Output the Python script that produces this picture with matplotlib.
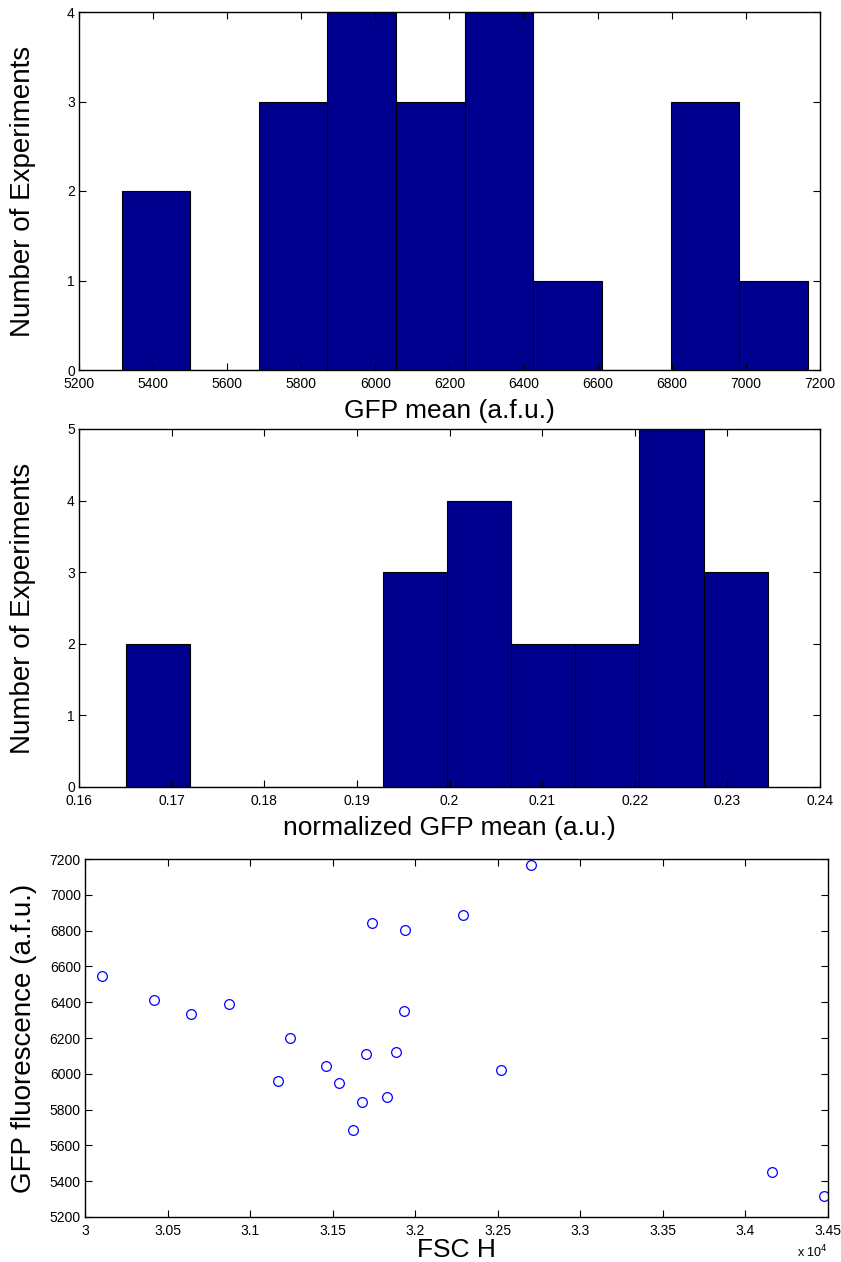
import matplotlib
matplotlib.use("Agg")
import matplotlib.pyplot as plt
from matplotlib.ticker import FuncFormatter

plt.rcParams['font.family'] = ['Liberation Sans', 'DejaVu Sans']

# histogram 1: GFP mean, 10 bins between min and max of the data
gfp_lo, gfp_hi = 5315, 7167
gfp_counts = [2, 0, 3, 4, 3, 4, 1, 0, 3, 1]

# histogram 2: normalized GFP mean
norm_lo, norm_hi = 0.16504, 0.23437
norm_counts = [2, 0, 0, 0, 3, 4, 2, 2, 5, 3]

# scatter: FSC H vs GFP fluorescence
fsc_h = [30101, 30415, 30642, 30872, 31239, 31167, 31459, 31540, 31702, 31680, 31624,
         31741, 31832, 31884, 31939, 31933, 32289, 32519, 32701, 34163, 34475]
gfp_fl = [6544, 6410, 6336, 6388, 6198, 5957, 6042, 5949, 6113, 5841, 5685,
          6845, 5871, 6122, 6802, 6352, 6886, 6020, 7167, 5451, 5315]

bar_color = "#00008F"
W, H = 841, 1262

fig = plt.figure(figsize=(W / 100, H / 100), dpi=100)


def box(left, top, right, bottom):
    return fig.add_axes([left / W, 1 - bottom / H, (right - left) / W, (bottom - top) / H])


def style(ax):
    ax.tick_params(direction="in", top=True, right=True, length=5, width=0.8,
                   labelsize=10, pad=3)
    ax.tick_params(axis="x", pad=5)
    for s in ax.spines.values():
        s.set_linewidth(1.0)


def hist_bars(ax, lo, hi, counts):
    n = len(counts)
    w = (hi - lo) / n
    lefts = [lo + i * w for i in range(n)]
    ax.bar(lefts, counts, width=w, align="edge", color=bar_color,
           edgecolor="black", linewidth=0.8)


def g(v, pos):
    return "%g" % round(v, 6)


# top panel
ax1 = box(79, 12, 820, 370)
hist_bars(ax1, gfp_lo, gfp_hi, gfp_counts)
ax1.set_xlim(5200, 7200)
ax1.set_ylim(0, 4)
ax1.set_xticks(range(5200, 7201, 200))
ax1.set_yticks(range(0, 5))
ax1.set_xlabel("GFP mean (a.f.u.)", fontsize=19, labelpad=6)
ax1.set_ylabel("Number of Experiments", fontsize=20, labelpad=22)
style(ax1)

# middle panel
ax2 = box(79, 429, 820, 787)
hist_bars(ax2, norm_lo, norm_hi, norm_counts)
ax2.set_xlim(0.16, 0.24)
ax2.set_ylim(0, 5)
ax2.set_xticks([0.16 + 0.01 * i for i in range(9)])
ax2.xaxis.set_major_formatter(FuncFormatter(g))
ax2.set_yticks(range(0, 6))
ax2.set_xlabel("normalized GFP mean (a.u.)", fontsize=19, labelpad=6)
ax2.set_ylabel("Number of Experiments", fontsize=20, labelpad=22)
style(ax2)

# bottom panel
ax3 = box(85, 859, 828, 1217)
ax3.plot(fsc_h, gfp_fl, "o", markerfacecolor="none", markeredgecolor="blue",
         markersize=7, markeredgewidth=0.9)
ax3.set_xlim(30000, 34500)
ax3.set_ylim(5200, 7200)
ax3.set_xticks(range(30000, 34501, 500))
ax3.xaxis.set_major_formatter(FuncFormatter(lambda v, p: "%g" % round(v / 1e4, 4)))
ax3.set_yticks(range(5200, 7201, 200))
ax3.set_xlabel("FSC H", fontsize=19, labelpad=0)
ax3.set_ylabel("GFP fluorescence (a.f.u.)", fontsize=20, labelpad=9)
ax3.text(1.0, -0.075, r"x 10$^{4}$", transform=ax3.transAxes, ha="right", va="top",
         fontsize=9)
style(ax3)

fig.savefig("out.png", dpi=100)
